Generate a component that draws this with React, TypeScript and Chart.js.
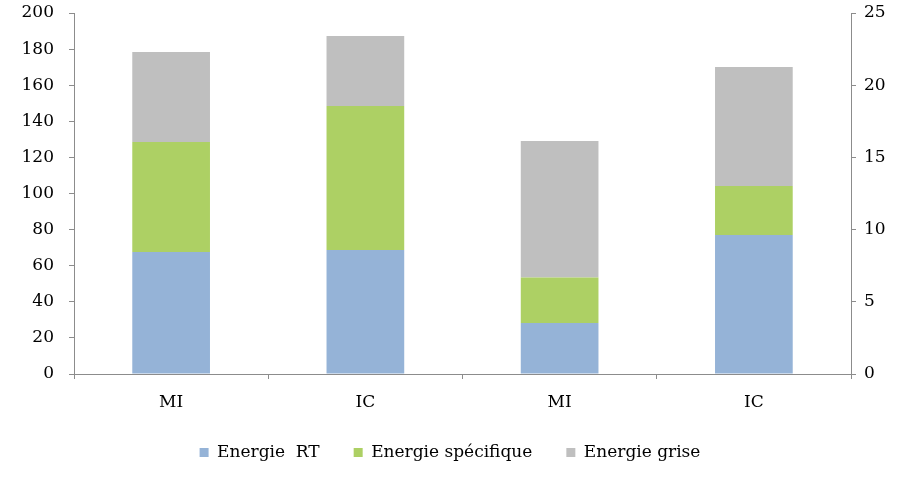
import React, { useEffect, useRef } from "react";
import { Chart, registerables } from "chart.js";

Chart.register(...registerables);

const categories = ["MI", "IC", "MI", "IC"];
const energieRT = [67.6, 68.7, 28.3, 77.0];
const energieSpecifique = [60.9, 79.8, 25.1, 27.2];
const energieGrise = [49.9, 38.8, 75.7, 65.9];
const leftTicks = { min: 0, max: 200, step: 20 };
const rightTicks = { min: 0, max: 25, step: 5 };

const FONT = "'DejaVu Serif', serif";
const AXIS_COLOR = "#8c8c8c";

export default function App() {
  const ref = useRef<HTMLCanvasElement | null>(null);
  useEffect(() => {
    if (!ref.current) return;
    const chart = new Chart(ref.current, {
      type: "bar",
      data: {
        labels: categories,
        datasets: [
          { label: "Energie  RT", data: energieRT, backgroundColor: "#95B3D7", borderWidth: 0, yAxisID: "y" },
          { label: "Energie spécifique", data: energieSpecifique, backgroundColor: "#ADD064", borderWidth: 0, yAxisID: "y" },
          { label: "Energie grise", data: energieGrise, backgroundColor: "#BFBFBF", borderWidth: 0, yAxisID: "y" },
        ],
      },
      options: {
        responsive: false,
        animation: false,
        layout: { padding: { top: 13, left: 0, right: 0, bottom: 18 } },
        datasets: { bar: { categoryPercentage: 1, barPercentage: 0.4 } },
        plugins: {
          tooltip: { enabled: false },
          legend: {
            position: "bottom",
            labels: {
              boxWidth: 9,
              boxHeight: 9,
              padding: 34,
              color: "#000",
              font: { family: FONT, size: 17 },
            },
          },
        },
        scales: {
          x: {
            stacked: true,
            grid: { display: true, drawOnChartArea: false, drawTicks: true, tickLength: 5, color: AXIS_COLOR, offset: true },
            border: { display: true, color: AXIS_COLOR, width: 1 },
            ticks: { color: "#000", padding: 13, font: { family: FONT, size: 17 } },
            afterFit: (s: any) => { s.height = 36; },
          },
          y: {
            stacked: true,
            position: "left",
            min: leftTicks.min,
            max: leftTicks.max,
            grid: { display: true, drawOnChartArea: false, drawTicks: true, tickLength: 5, color: AXIS_COLOR },
            border: { display: true, color: AXIS_COLOR, width: 1 },
            ticks: { stepSize: leftTicks.step, color: "#000", padding: 15, font: { family: FONT, size: 17 } },
            afterFit: (s: any) => { s.width = 74; s.paddingTop = 0; s.paddingBottom = 0; },
          },
          y1: {
            position: "right",
            min: rightTicks.min,
            max: rightTicks.max,
            grid: { display: true, drawOnChartArea: false, drawTicks: true, tickLength: 5, color: AXIS_COLOR },
            border: { display: true, color: AXIS_COLOR, width: 1 },
            ticks: { stepSize: rightTicks.step, color: "#000", padding: 8, font: { family: FONT, size: 17 } },
            afterFit: (s: any) => { s.width = 49; s.paddingTop = 0; s.paddingBottom = 0; },
          },
        },
      },
    });
    return () => chart.destroy();
  }, []);
  return (
    <div style={{ position: "absolute", left: 0, top: 0, width: 900, height: 489, background: "#fff" }}>
      <canvas ref={ref} width={900} height={489} />
    </div>
  );
}
